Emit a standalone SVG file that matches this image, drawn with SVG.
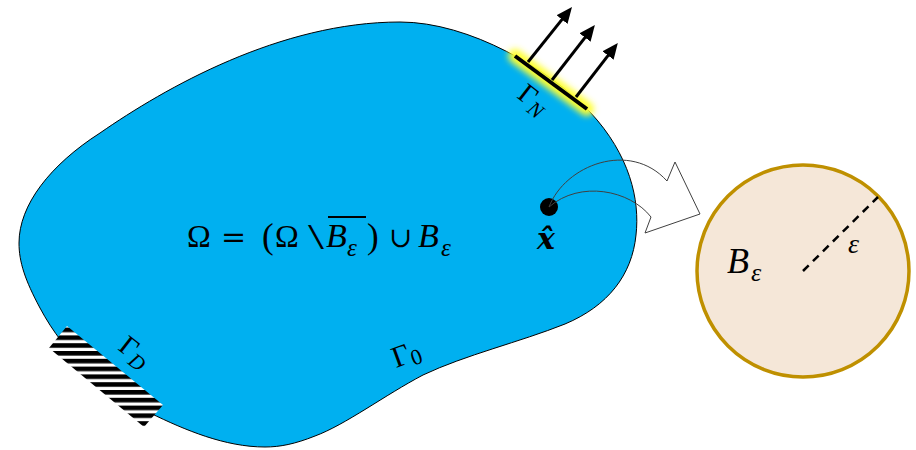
<svg xmlns="http://www.w3.org/2000/svg" width="916" height="450" viewBox="0 0 916 450">
  <defs>
    <style>
      .math { font-family: "Liberation Serif", "DejaVu Serif", serif; fill: #000; }
      .it { font-style: italic; }
      .op { font-family: "DejaVu Serif", "Liberation Serif", serif; }
      .force { stroke: #000; stroke-width: 3; fill: none; marker-end: url(#head); }
    </style>
    <marker id="head" markerUnits="userSpaceOnUse" viewBox="0 0 16 14" markerWidth="16" markerHeight="14" refX="4" refY="7" orient="auto">
      <path d="M0,0 L16,7 L0,14 z" fill="#000"/>
    </marker>
    <pattern id="hatch" patternUnits="userSpaceOnUse" width="20" height="7.8">
      <rect x="0" y="0" width="20" height="7.8" fill="#fff"/>
      <rect x="0" y="0" width="20" height="4.6" fill="#000"/>
    </pattern>
    <filter id="glow" x="-30%" y="-60%" width="160%" height="220%">
      <feGaussianBlur stdDeviation="3"/>
    </filter>
  </defs>

  <g id="domain">
    <path d="M400,22 C470,22 550,70 590,112 C630,155 640,200 636,235 C632,275 608,306 565,324 C520,342 465,355 423,375 C385,395 345,425 315,436 C295,444 280,447 265,447 C225,447 185,430 150,413 C105,392 65,355 40,308 C25,280 19,262 19,243 C19,205 50,165 100,133 C165,88 280,22 400,22 Z" fill="#00B0F0" stroke="#000" stroke-width="1"/>
    <g id="formula" class="math" font-size="32">
      <text x="187" y="247">Ω</text>
      <text x="221" y="247" class="op" font-size="30">=</text>
      <text x="262" y="248" font-size="35">(</text>
      <text x="275" y="247">Ω</text>
      <text x="308" y="249" font-size="35" textLength="16" lengthAdjust="spacingAndGlyphs">\</text>
      <text x="326" y="247" class="it" font-size="34">B</text>
      <text x="347" y="256" class="it" font-size="25">ε</text>
      <line x1="328" y1="217" x2="366" y2="217" stroke="#000" stroke-width="1.8"/>
      <text x="367" y="248" font-size="35">)</text>
      <text x="389" y="247" class="op" font-size="28">∪</text>
      <text x="418" y="247" class="it" font-size="34">B</text>
      <text x="441" y="256" class="it" font-size="25">ε</text>
    </g>
    <text class="math" font-size="30" transform="translate(396,368) rotate(-20)">Γ<tspan font-size="22" dy="4">0</tspan></text>
  </g>

  <g id="gamma-n">
    <line x1="515" y1="56" x2="587" y2="109" stroke="#FFFF33" stroke-width="14" stroke-linecap="round" filter="url(#glow)"/>
    <line x1="515" y1="56" x2="587" y2="109" stroke="#000" stroke-width="4"/>
    <line class="force" x1="528" y1="62" x2="564.5" y2="16.4"/>
    <line class="force" x1="552" y1="80" x2="587.5" y2="34.4"/>
    <line class="force" x1="576" y1="97" x2="610.5" y2="52.4"/>
    <text class="math" font-size="28" transform="translate(516,97) rotate(38)">Γ<tspan class="it" font-size="21" dy="5">N</tspan></text>
  </g>

  <g id="gamma-d">
    <polygon points="67,326 163,405 144,427 49,348" fill="url(#hatch)"/>
    <text class="math" font-size="28" transform="translate(117,349) rotate(38)">Γ<tspan class="it" font-size="21" dy="5">D</tspan></text>
  </g>

  <g id="point-x">
    <circle cx="549" cy="207" r="9" fill="#000"/>
    <text x="537" y="249" font-family="DejaVu Serif, Liberation Serif, serif" font-size="30" font-weight="bold" font-style="italic">x̂</text>
  </g>

  <g id="ball">
    <circle cx="803" cy="271" r="106" fill="#F5E7D8" stroke="#BF9000" stroke-width="3.5"/>
    <line x1="803" y1="271" x2="878" y2="197" stroke="#000" stroke-width="2.5" stroke-dasharray="8,6"/>
    <text class="math it" x="727" y="273" font-size="36">B</text>
    <text class="math it" x="751" y="281" font-size="26">ε</text>
    <text class="math it" x="848" y="253" font-size="28">ε</text>
  </g>

  <g id="connectors">
    <path d="M549,207 C565,165 630,140 667,181 L675,162 L700,214 L645,233 L651,217 C630,190 580,180 549,207 Z" fill="none" stroke="#404040" stroke-width="1"/>
  </g>
</svg>
